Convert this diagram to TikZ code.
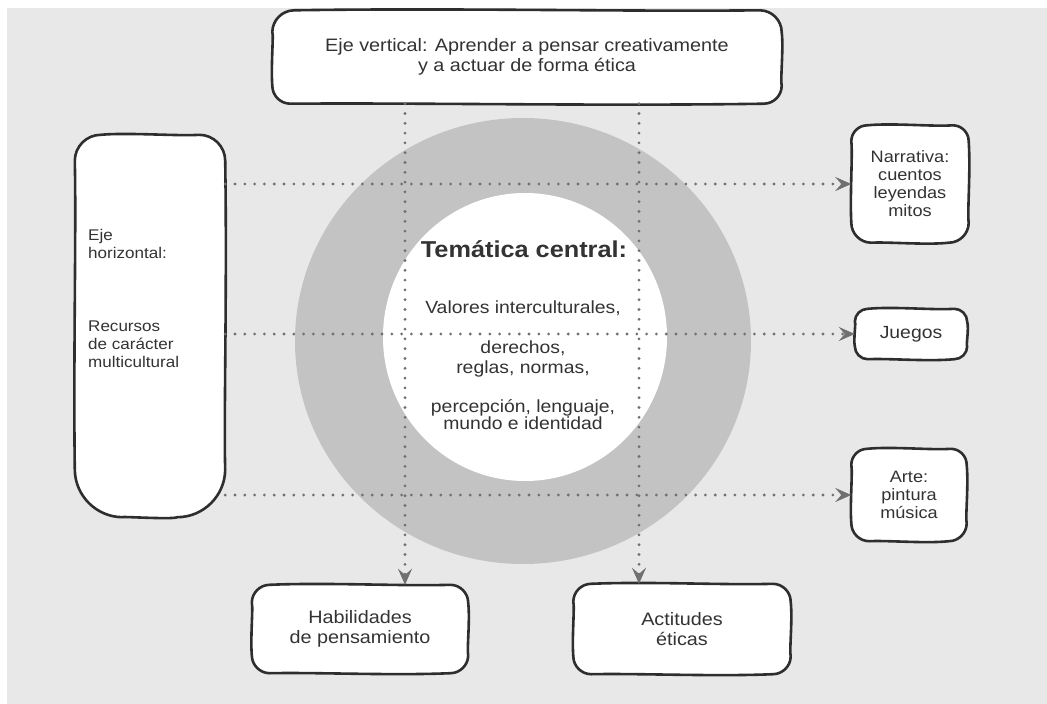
\documentclass[tikz,border=0pt]{standalone}
\usepackage{fontspec}
\setmainfont[FakeStretch=1.1]{Liberation Sans}
\usetikzlibrary{arrows.meta,calc}
\definecolor{bg}{HTML}{E8E8E8}
\definecolor{ringc}{HTML}{C3C3C3}
\definecolor{ink}{HTML}{333333}
\definecolor{edge}{HTML}{2E2E2E}
\definecolor{dotc}{HTML}{707070}
\pgfdeclarelayer{back}
\pgfdeclarelayer{mid}
\pgfsetlayers{back,mid,main}
\newcommand\skbox[3]{% #1 node, #2 top radius, #3 bottom radius
 \path[outline]
 ($(#1.north west)+(#2,0)$)
 .. controls ($(#1.north west)!0.35!(#1.north east)+(0,-2.5)$) and ($(#1.north west)!0.7!(#1.north east)+(0,1.5)$) .. ($(#1.north east)+(-#2,0)$)
 .. controls ($(#1.north east)+(-0.45*#2,0)$) and ($(#1.north east)+(0,0.45*#2)$) .. ($(#1.north east)+(0,#2)$)
 .. controls ($(#1.north east)!0.4!(#1.south east)+(2,0)$) and ($(#1.north east)!0.75!(#1.south east)+(-1.5,0)$) .. ($(#1.south east)+(0,-#3)$)
 .. controls ($(#1.south east)+(0,-0.45*#3)$) and ($(#1.south east)+(-0.45*#3,0)$) .. ($(#1.south east)+(-#3,0)$)
 .. controls ($(#1.south east)!0.35!(#1.south west)+(0,2.5)$) and ($(#1.south east)!0.7!(#1.south west)+(0,-1)$) .. ($(#1.south west)+(#3,0)$)
 .. controls ($(#1.south west)+(0.45*#3,0)$) and ($(#1.south west)+(0,-0.45*#3)$) .. ($(#1.south west)+(0,-#3)$)
 .. controls ($(#1.south west)!0.4!(#1.north west)+(-1.5,0)$) and ($(#1.south west)!0.75!(#1.north west)+(1.5,0)$) .. ($(#1.north west)+(0,#2)$)
 .. controls ($(#1.north west)+(0,0.45*#2)$) and ($(#1.north west)+(0.45*#2,0)$) .. cycle;}
\begin{document}
\begin{tikzpicture}[x=1pt,y=-1pt,
  box/.style={text=ink, align=center, inner sep=0pt},
  outline/.style={draw=edge, fill=white, line width=2.6pt, line join=round},
  flow/.style={draw=dotc, line width=3.1pt, line cap=round, dash pattern=on 0pt off 9.8pt, -{Stealth[length=16pt,width=14pt,inset=6pt,fill=dotc]}},
  lbl/.style={text=ink, align=center, inner sep=0pt},
  big/.style={font=\fontsize{18}{20}\selectfont},
  mid/.style={font=\fontsize{17.6}{20}\selectfont},
  small/.style={font=\fontsize{16.5}{18}\selectfont},
  lsmall/.style={font=\fontsize{15.5}{18}\selectfont}]
\useasboundingbox (0,0) rectangle (1047,704);
\begin{pgfonlayer}{back}
\fill[white] (0,0) rectangle (1047,704);
\fill[bg] (7,8) rectangle (1047,704);
\fill[ringc] (523,341) ellipse [x radius=228pt, y radius=223pt];
\fill[white] (525,337) ellipse [x radius=142pt, y radius=144pt];
\end{pgfonlayer}

% central text
\node[lbl, font=\bfseries\fontsize{23}{26}\selectfont, anchor=base] (tema) at (524,257) {Temática central:};
\node[lbl, mid, anchor=base] (val) at (523,313) {Valores interculturales,};
\node[lbl, mid, anchor=base] (der) at (523,373) {derechos,\\reglas, normas,};
\node[lbl, font=\fontsize{17.6}{17}\selectfont, anchor=base] (per) at (523,429) {percepción, lenguaje,\\mundo e identidad};

% boxes
\node[box, big, minimum width=509pt, minimum height=93pt] (top) at (527,57) {Eje vertical: Aprender a pensar creativamente\\y a actuar de forma ética};
\node[box, minimum width=150pt, minimum height=382pt] (hbox) at (150,326) {};
\node[lbl, lsmall, align=left, anchor=base west] (htxt) at (88,367) {Eje\\horizontal:\\[55pt]Recursos\\de carácter\\multicultural};
\node[box, small, minimum width=117pt, minimum height=117pt] (nar) at (910,184) {Narrativa:\\cuentos\\leyendas\\mitos};
\node[box, mid, minimum width=112pt, minimum height=50pt] (jue) at (911,334) {Juegos};
\node[box, small, minimum width=115pt, minimum height=92pt] (arte) at (909,495) {Arte:\\pintura\\música};
\node[box, big, minimum width=216pt, minimum height=88pt] (hab) at (360,629) {Habilidades\\de pensamiento};
\node[box, big, minimum width=217pt, minimum height=90pt] (act) at (682,629) {Actitudes\\éticas};

\begin{pgfonlayer}{mid}
\skbox{top}{22}{18}
\skbox{hbox}{26}{48}
\skbox{nar}{16}{20}
\skbox{jue}{13}{13}
\skbox{arte}{16}{18}
\skbox{hab}{18}{18}
\skbox{act}{18}{18}
\end{pgfonlayer}

% connectors
\coordinate (v1) at (405,0);
\coordinate (v2) at (639,0);
\draw[flow] (hbox.east |- nar.west) -- (nar.west);
\draw[flow] (hbox.east |- jue.west) -- (jue.west);
\draw[flow] (hbox.east |- arte.west) -- (arte.west);
\draw[flow] (top.south -| v1) -- (hab.north -| v1);
\draw[flow] (top.south -| v2) -- (act.north -| v2);
\end{tikzpicture}
\end{document}
